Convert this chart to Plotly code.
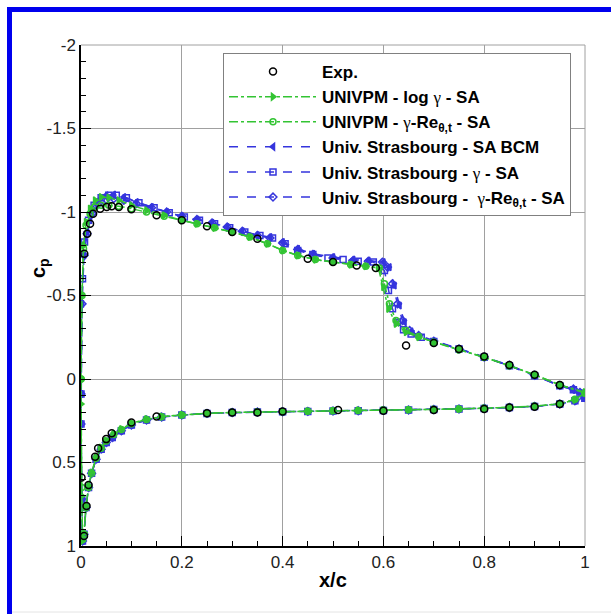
import plotly.graph_objects as go

# ---------------- data ----------------
exp_x = [0.0065, 0.0125, 0.018, 0.024, 0.038, 0.051, 0.061, 0.075, 0.10, 0.15, 0.20, 0.25,
         0.30, 0.35, 0.45, 0.50, 0.547, 0.585, 0.645, 0.70, 0.75, 0.80, 0.85, 0.90, 0.95,
         None,
         0.001, 0.006, 0.011, 0.015, 0.028, 0.034, 0.05, 0.061, 0.10, 0.15, 0.25, 0.30, 0.35,
         0.40, 0.51, 0.60, 0.70, 0.80, 0.85, 0.90, 0.95]
exp_cp = [-0.75, -0.87, -0.93, -0.99, -1.02, -1.03, -1.035, -1.03, -1.016, -0.98, -0.95, -0.915,
          -0.88, -0.84, -0.72, -0.70, -0.68, -0.665, -0.20, -0.215, -0.18, -0.135, -0.084, -0.026, 0.036,
          None,
          0.59, 0.94, 0.76, 0.635, 0.465, 0.415, 0.36, 0.325, 0.26, 0.225, 0.205, 0.20, 0.20,
          0.195, 0.186, 0.19, 0.185, 0.18, 0.17, 0.166, 0.15]

# UNIVPM - log gamma - SA (upper: TE -> LE, then lower: LE -> TE)
g1_x = [1.0, 0.95, 0.9, 0.85, 0.8, 0.75, 0.7, 0.67, 0.645, 0.625, 0.61, 0.6, 0.59, 0.565, 0.535,
        0.5, 0.465, 0.43, 0.4, 0.37, 0.335, 0.3, 0.265, 0.23, 0.2, 0.165, 0.13, 0.1, 0.075, 0.055,
        0.04, 0.028, 0.018, 0.01, 0.005, 0.002, 0.0,
        0.0, 0.0015, 0.003, 0.006, 0.01, 0.015, 0.021, 0.03, 0.04, 0.05, 0.065, 0.08, 0.1, 0.13,
        0.16, 0.2, 0.25, 0.3, 0.35, 0.4, 0.45, 0.5, 0.55, 0.6, 0.65, 0.7, 0.75, 0.8, 0.85, 0.9,
        0.95, 0.98, 1.0]
g1_cp = [0.08, 0.035, -0.025, -0.08, -0.13, -0.175, -0.22, -0.25, -0.28, -0.33, -0.42, -0.55,
         -0.665, -0.675, -0.685, -0.70, -0.715, -0.74, -0.77, -0.81, -0.85, -0.88, -0.905, -0.93,
         -0.95, -0.98, -1.01, -1.04, -1.07, -1.085, -1.09, -1.07, -1.02, -0.94, -0.80, -0.50, 0.0,
         0.15, 0.70, 0.97, 0.92, 0.76, 0.64, 0.56, 0.47, 0.41, 0.37, 0.33, 0.30, 0.265, 0.24,
         0.225, 0.215, 0.205, 0.20, 0.198, 0.195, 0.193, 0.19, 0.188, 0.186, 0.184, 0.182, 0.179,
         0.175, 0.17, 0.163, 0.148, 0.125, 0.08]

# UNIVPM - gamma-Re_theta,t - SA
g2_x = [1.0, 0.95, 0.9, 0.85, 0.8, 0.75, 0.7, 0.67, 0.645, 0.625, 0.612, 0.602, 0.592, 0.565,
        0.535, 0.5, 0.465, 0.43, 0.4, 0.37, 0.335, 0.3, 0.265, 0.23, 0.2, 0.165, 0.13, 0.1, 0.075,
        0.055, 0.04, 0.028, 0.018, 0.01, 0.005, 0.002, 0.0,
        0.0, 0.0015, 0.003, 0.006, 0.01, 0.015, 0.021, 0.03, 0.04, 0.05, 0.065, 0.08, 0.1, 0.13,
        0.16, 0.2, 0.25, 0.3, 0.35, 0.4, 0.45, 0.5, 0.55, 0.6, 0.65, 0.7, 0.75, 0.8, 0.85, 0.9,
        0.95, 0.98, 1.0]
g2_cp = [0.085, 0.035, -0.025, -0.08, -0.13, -0.175, -0.22, -0.255, -0.29, -0.35, -0.45, -0.57,
         -0.665, -0.675, -0.685, -0.70, -0.715, -0.74, -0.77, -0.81, -0.85, -0.88, -0.905, -0.93,
         -0.95, -0.975, -1.0, -1.02, -1.035, -1.04, -1.04, -1.03, -0.99, -0.92, -0.78, -0.50, 0.0,
         0.0, 0.65, 0.96, 0.93, 0.77, 0.65, 0.565, 0.475, 0.415, 0.372, 0.332, 0.302, 0.268, 0.242,
         0.226, 0.216, 0.206, 0.201, 0.198, 0.196, 0.193, 0.19, 0.188, 0.186, 0.184, 0.182, 0.179,
         0.175, 0.17, 0.163, 0.148, 0.122, 0.085]

# Univ. Strasbourg - SA BCM
b1_x = [1.0, 0.99, 0.977, 0.95, 0.9, 0.85, 0.8, 0.75, 0.7, 0.67, 0.655, 0.642, 0.632, 0.622,
        0.612, 0.6, 0.57, 0.54, 0.5, 0.46, 0.43, 0.4, 0.375, 0.35, 0.32, 0.29, 0.26, 0.23, 0.2,
        0.17, 0.14, 0.11, 0.085, 0.065, 0.05, 0.035, 0.022, 0.012, 0.006, 0.002, 0.0,
        0.0, 0.0015, 0.003, 0.006, 0.01, 0.015, 0.021, 0.03, 0.04, 0.05, 0.062, 0.08, 0.1, 0.13,
        0.16, 0.2, 0.25, 0.3, 0.35, 0.4, 0.45, 0.5, 0.55, 0.6, 0.65, 0.7, 0.75, 0.8, 0.85, 0.9,
        0.95, 0.98, 1.0]
b1_cp = [0.115, 0.085, 0.065, 0.04, -0.02, -0.08, -0.13, -0.18, -0.225, -0.255, -0.285, -0.34,
         -0.44, -0.56, -0.67, -0.70, -0.71, -0.715, -0.73, -0.75, -0.78, -0.82, -0.85, -0.86,
         -0.885, -0.91, -0.935, -0.955, -0.975, -1.0, -1.03, -1.06, -1.09, -1.105, -1.10, -1.07,
         -1.0, -0.88, -0.74, -0.45, 0.09,
         0.27, 0.72, 0.97, 0.93, 0.77, 0.65, 0.565, 0.48, 0.42, 0.38, 0.35, 0.31, 0.275, 0.245,
         0.228, 0.216, 0.206, 0.201, 0.198, 0.196, 0.194, 0.192, 0.19, 0.188, 0.186, 0.183, 0.18,
         0.176, 0.171, 0.164, 0.15, 0.13, 0.115]

# Univ. Strasbourg - gamma - SA
b2_x = [1.0, 0.99, 0.977, 0.95, 0.9, 0.85, 0.8, 0.75, 0.7, 0.675, 0.655, 0.64, 0.628, 0.618,
        0.61, 0.602, 0.58, 0.55, 0.52, 0.49, 0.46, 0.43, 0.405, 0.38, 0.355, 0.325, 0.295, 0.265,
        0.235, 0.205, 0.175, 0.145, 0.115, 0.09, 0.07, 0.055, 0.04, 0.026, 0.015, 0.007, 0.003, 0.0,
        0.0, 0.0015, 0.003, 0.006, 0.01, 0.015, 0.021, 0.03, 0.04, 0.05, 0.062, 0.08, 0.1, 0.13,
        0.16, 0.2, 0.25, 0.3, 0.35, 0.4, 0.45, 0.5, 0.55, 0.6, 0.65, 0.7, 0.75, 0.8, 0.85, 0.9,
        0.95, 0.98, 1.0]
b2_cp = [0.115, 0.085, 0.065, 0.04, -0.02, -0.08, -0.13, -0.18, -0.225, -0.25, -0.27, -0.295,
         -0.34, -0.42, -0.53, -0.65, -0.70, -0.705, -0.715, -0.725, -0.745, -0.77, -0.81, -0.845,
         -0.86, -0.88, -0.905, -0.93, -0.95, -0.97, -0.995, -1.025, -1.055, -1.085, -1.10, -1.1,
         -1.085, -1.04, -0.95, -0.82, -0.60, 0.09,
         0.27, 0.72, 0.97, 0.93, 0.77, 0.65, 0.565, 0.48, 0.42, 0.38, 0.35, 0.31, 0.275, 0.245,
         0.228, 0.216, 0.206, 0.201, 0.198, 0.196, 0.194, 0.192, 0.19, 0.188, 0.186, 0.183, 0.18,
         0.176, 0.171, 0.164, 0.15, 0.13, 0.115]

# Univ. Strasbourg - gamma-Re_theta,t - SA
b3_x = [1.0, 0.99, 0.977, 0.95, 0.9, 0.85, 0.8, 0.75, 0.7, 0.67, 0.652, 0.638, 0.628, 0.618,
        0.608, 0.598, 0.57, 0.54, 0.5, 0.46, 0.43, 0.4, 0.375, 0.35, 0.32, 0.29, 0.26, 0.23, 0.2,
        0.17, 0.14, 0.11, 0.085, 0.065, 0.05, 0.035, 0.022, 0.012, 0.006, 0.002, 0.0,
        0.0, 0.0015, 0.003, 0.006, 0.01, 0.015, 0.021, 0.03, 0.04, 0.05, 0.062, 0.08, 0.1, 0.13,
        0.16, 0.2, 0.25, 0.3, 0.35, 0.4, 0.45, 0.5, 0.55, 0.6, 0.65, 0.7, 0.75, 0.8, 0.85, 0.9,
        0.95, 0.98, 1.0]
b3_cp = [0.11, 0.08, 0.06, 0.038, -0.022, -0.082, -0.132, -0.18, -0.227, -0.26, -0.29, -0.35,
         -0.45, -0.57, -0.67, -0.70, -0.705, -0.71, -0.725, -0.745, -0.775, -0.815, -0.845, -0.86,
         -0.885, -0.91, -0.935, -0.955, -0.975, -1.0, -1.025, -1.05, -1.07, -1.08, -1.075, -1.05,
         -0.99, -0.87, -0.74, -0.45, 0.09,
         0.27, 0.72, 0.97, 0.93, 0.77, 0.65, 0.565, 0.48, 0.42, 0.38, 0.35, 0.31, 0.275, 0.245,
         0.228, 0.216, 0.206, 0.201, 0.198, 0.196, 0.194, 0.192, 0.19, 0.188, 0.186, 0.183, 0.18,
         0.176, 0.171, 0.164, 0.15, 0.13, 0.11]

x_tickvals = [0, 0.2, 0.4, 0.6, 0.8, 1]
x_ticktext = ["0", "0.2", "0.4", "0.6", "0.8", "1"]
y_tickvals = [-2, -1.5, -1, -0.5, 0, 0.5, 1]
y_ticktext = ["-2", "-1.5", "-1", "-0.5", "0", "0.5", "1"]

G = '<span style="font-family:\'Liberation Serif\';font-weight:normal">γ</span>'
names = ["Exp.",
         "UNIVPM - log " + G + " - SA",
         "UNIVPM - " + G + "-Re<sub>θ,t</sub> - SA",
         "Univ. Strasbourg - SA BCM",
         "Univ. Strasbourg - " + G + " - SA",
         "Univ. Strasbourg - \u00a0" + G + "-Re<sub>θ,t</sub> - SA"]

GREEN = "#33c433"
BLUE = "#3535dd"

# ---------------- figure ----------------
W, H = 611, 614
ML, MR, MT, MB = 81, 26, 45, 68
PW, PH = W - ML - MR, H - MT - MB

def px(xp):
    return (xp - ML) / PW

def py(yp):
    return (H - MB - yp) / PH

fig = go.Figure()

series = [
    (b1_x, b1_cp, names[3], BLUE, "dash", "triangle-left", 4),
    (b2_x, b2_cp, names[4], BLUE, "dash", "square-open", 5),
    (b3_x, b3_cp, names[5], BLUE, "dash", "diamond-open", 6),
    (g1_x, g1_cp, names[1], GREEN, "dashdot", "triangle-right", 2),
    (g2_x, g2_cp, names[2], GREEN, "dashdot", "circle-open", 3),
]
for xs, ys, nm, col, dash, sym, rank in series:
    fig.add_trace(go.Scatter(
        x=xs, y=ys, name=nm, mode="lines+markers", legendrank=rank,
        line=dict(color=col, width=1.5, dash=dash),
        marker=dict(symbol=sym, size=6, color=col, line=dict(color=col, width=1.5)),
    ))

fig.add_trace(go.Scatter(
    x=exp_x, y=exp_cp, name=names[0], mode="markers", legendrank=1,
    marker=dict(symbol="circle-open", size=7, color="black", line=dict(color="black", width=1.5)),
))

axis_common = dict(
    showline=True, linecolor="black", linewidth=1.5,
    ticks="inside", ticklen=10, tickwidth=1.2, tickcolor="black",
    showgrid=True, gridcolor="#a0a0a0", gridwidth=1, zeroline=False,
    tickfont=dict(family="Liberation Sans, Arial, sans-serif", size=17, color="#222"),
)

fig.update_xaxes(
    range=[0, 1], tickmode="array", tickvals=x_tickvals, ticktext=x_ticktext,
    minor=dict(dtick=0.05, ticks="inside", ticklen=5, tickcolor="black", showgrid=False),
    **axis_common,
)
fig.update_yaxes(
    range=[1, -2], tickmode="array", tickvals=y_tickvals, ticktext=y_ticktext,
    minor=dict(dtick=0.1, ticks="inside", ticklen=5, tickcolor="black", showgrid=False),
    **axis_common,
)

fig.update_layout(
    width=W, height=H,
    margin=dict(l=ML, r=MR, t=MT, b=MB, pad=0),
    paper_bgcolor="white", plot_bgcolor="white",
    showlegend=True,
    legend=dict(
        x=px(223), y=py(53), xanchor="left", yanchor="top",
        bgcolor="white", bordercolor="#808080", borderwidth=1,
        font=dict(family="Liberation Sans, Arial, sans-serif", size=17, color="black", weight="bold"),
        itemwidth=88, tracegroupgap=0,
    ),
    annotations=[
        dict(text="x/c", xref="paper", yref="paper", x=px(333), y=py(580),
             xanchor="center", yanchor="middle", showarrow=False,
             font=dict(family="Liberation Sans, Arial, sans-serif", size=20, color="black", weight="bold")),
        dict(text="c<sub>p</sub>", xref="paper", yref="paper", x=px(39), y=py(268),
             xanchor="center", yanchor="middle", showarrow=False, textangle=-90,
             font=dict(family="Liberation Sans, Arial, sans-serif", size=20, color="black", weight="bold")),
    ],
    shapes=[
        # blue frame (top and left edges)
        dict(type="rect", xref="paper", yref="paper", x0=px(7), x1=px(611), y0=py(12), y1=py(7),
             fillcolor="#0000ee", line=dict(width=0), layer="above"),
        dict(type="rect", xref="paper", yref="paper", x0=px(7), x1=px(12), y0=py(614), y1=py(7),
             fillcolor="#0000ee", line=dict(width=0), layer="above"),
        dict(type="line", xref="paper", yref="paper", x0=px(12), x1=px(611), y0=py(612), y1=py(612),
             line=dict(color="#e4e4e4", width=1)),
        # top and right plot borders (gray)
        dict(type="line", xref="paper", yref="paper", x0=0, x1=1, y0=1, y1=1,
             line=dict(color="#a0a0a0", width=1), layer="below"),
        dict(type="line", xref="paper", yref="paper", x0=1, x1=1, y0=0, y1=1,
             line=dict(color="#a0a0a0", width=1), layer="below"),
    ],
)

fig.write_html("out.html")
